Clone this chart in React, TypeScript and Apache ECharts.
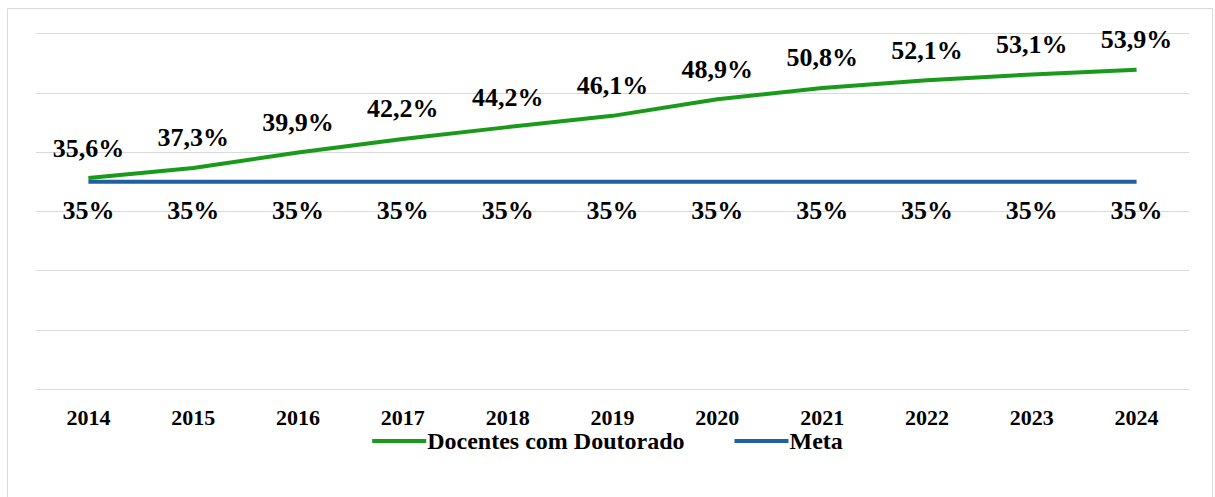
import React, { useEffect, useRef } from "react";
import * as echarts from "echarts";

const years = ["2014", "2015", "2016", "2017", "2018", "2019", "2020", "2021", "2022", "2023", "2024"];
const docentes = [35.6, 37.3, 39.9, 42.2, 44.2, 46.1, 48.9, 50.8, 52.1, 53.1, 53.9];
const meta = [35, 35, 35, 35, 35, 35, 35, 35, 35, 35, 35];
const seriesNames = ["Docentes com Doutorado", "Meta"];

const FONT = "'Liberation Serif', 'Times New Roman', serif";

export default function App() {
  const ref = useRef<HTMLDivElement>(null);
  useEffect(() => {
    if (!ref.current) return;
    const chart = echarts.init(ref.current, null, { renderer: "svg" });
    chart.setOption({
      animation: false,
      backgroundColor: "#ffffff",
      graphic: [
        {
          type: "rect",
          shape: { x: 7.5, y: 8.5, width: 1205, height: 495 },
          style: { fill: "none", stroke: "#d9d9d9", lineWidth: 1 },
          silent: true,
        },
      ],
      grid: { left: 36, right: 26, top: 33.5, bottom: 108 },
      legend: {
        top: 429,
        left: "center",
        itemGap: 50,
        itemWidth: 54,
        itemHeight: 4,
        icon: "rect",
        padding: 0,
        textStyle: {
          fontFamily: FONT,
          fontWeight: "bold",
          fontSize: 24,
          lineHeight: 19,
          color: "#000",
          padding: [0, 0, 0, -4],
        },
        data: seriesNames,
      },
      xAxis: {
        type: "category",
        data: years,
        boundaryGap: true,
        axisLine: { show: true, lineStyle: { color: "#d9d9d9", width: 1 } },
        axisTick: { show: false },
        axisLabel: { fontFamily: FONT, fontWeight: "bold", fontSize: 22, lineHeight: 18, color: "#000", margin: 19 },
      },
      yAxis: {
        type: "value",
        min: 0,
        max: 60,
        interval: 10,
        axisLabel: { show: false },
        axisLine: { show: false },
        axisTick: { show: false },
        splitLine: { lineStyle: { color: "#d9d9d9", width: 1 } },
      },
      series: [
        {
          name: seriesNames[0],
          type: "line",
          data: docentes,
          symbol: "circle",
          symbolSize: 0.1,
          showSymbol: true,
          lineStyle: { color: "#1a9a1a", width: 4 },
          itemStyle: { color: "#1a9a1a" },
          label: {
            show: true,
            position: "top",
            distance: 17,
            fontFamily: FONT,
            fontWeight: "bold",
            fontSize: 26,
            color: "#000",
            formatter: (p: any) => p.value.toFixed(1).replace(".", ",") + "%",
          },
        },
        {
          name: seriesNames[1],
          type: "line",
          data: meta,
          symbol: "circle",
          symbolSize: 0.1,
          showSymbol: true,
          lineStyle: { color: "#1f60a0", width: 4 },
          itemStyle: { color: "#1f60a0" },
          label: {
            show: true,
            position: "bottom",
            distance: 16,
            fontFamily: FONT,
            fontWeight: "bold",
            fontSize: 26,
            color: "#000",
            formatter: (p: any) => p.value + "%",
          },
        },
      ],
    });
    return () => chart.dispose();
  }, []);
  return (
    <div
      ref={ref}
      style={{ position: "fixed", left: 0, top: 0, width: 1215, height: 497 }}
    />
  );
}
